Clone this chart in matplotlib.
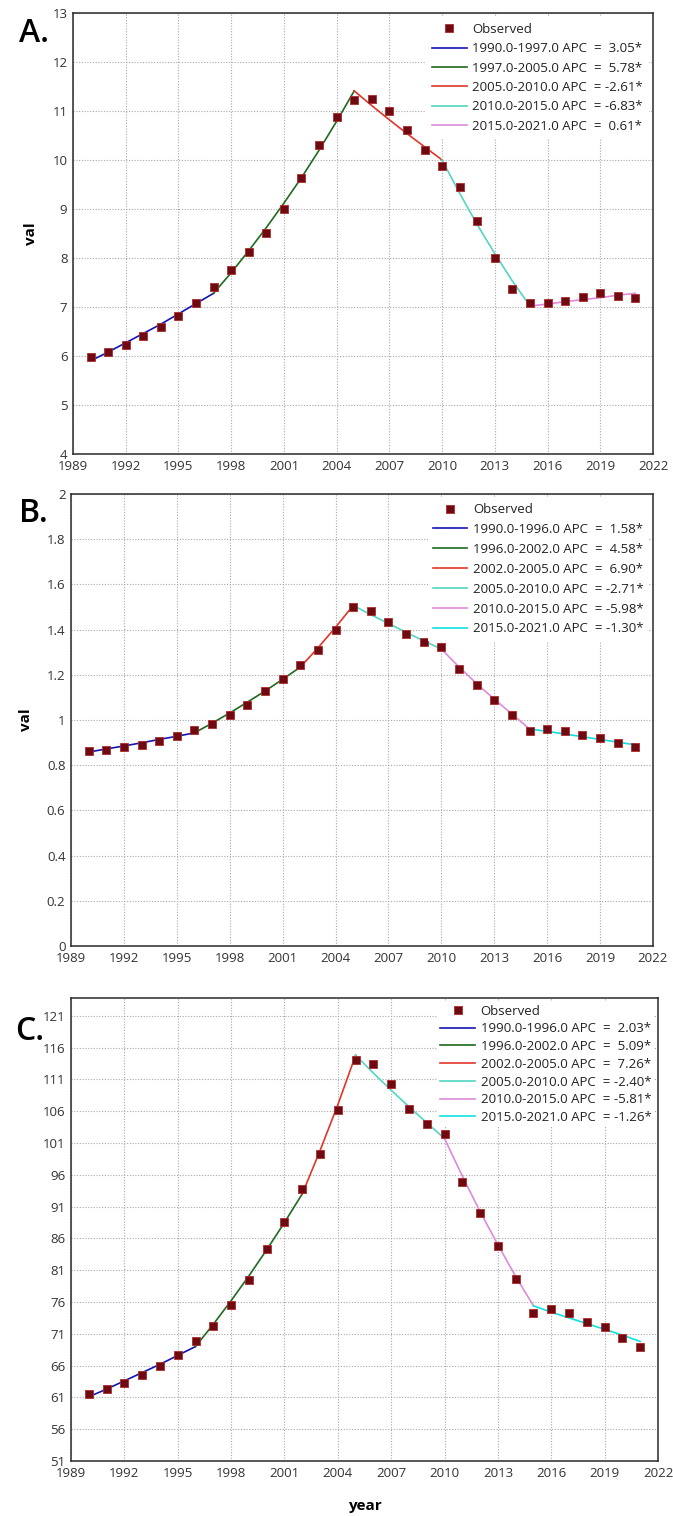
import matplotlib
matplotlib.use("Agg")
import matplotlib.pyplot as plt
from matplotlib.ticker import FuncFormatter

plt.rcParams['font.family'] = ['Open Sans', 'DejaVu Sans']

years = list(range(1990, 2022))

# Panel A
obs_a = [5.98, 6.09, 6.23, 6.40, 6.59, 6.81, 7.09, 7.40, 7.76, 8.13, 8.52, 9.00,
         9.63, 10.30, 10.87, 11.22, 11.24, 11.00, 10.62, 10.20, 9.87, 9.45, 8.75,
         7.99, 7.36, 7.09, 7.09, 7.13, 7.21, 7.28, 7.22, 7.19]
fit_a = [5.90, 6.08, 6.27, 6.46, 6.65, 6.86, 7.07, 7.28, 7.70, 8.15, 8.62, 9.12,
         9.64, 10.20, 10.79, 11.41, 11.11, 10.82, 10.54, 10.27, 10.00, 9.32, 8.68,
         8.09, 7.53, 7.02, 7.06, 7.11, 7.15, 7.19, 7.24, 7.28]
joins_a = [1990, 1997, 2005, 2010, 2015, 2021]
apc_a = [3.05, 5.78, -2.61, -6.83, 0.61]
colors_a = ['#1414b4', '#1f6a1f', '#e0362a', '#52d6c4', '#dd8ad8']

# Panel B
obs_b = [0.861, 0.869, 0.880, 0.891, 0.907, 0.929, 0.957, 0.982, 1.022, 1.066,
         1.128, 1.180, 1.245, 1.311, 1.398, 1.499, 1.481, 1.434, 1.379, 1.345,
         1.322, 1.226, 1.156, 1.090, 1.021, 0.951, 0.959, 0.950, 0.932, 0.922,
         0.900, 0.882]
fit_b = [0.858, 0.872, 0.885, 0.899, 0.914, 0.928, 0.943, 0.986, 1.031, 1.079,
         1.128, 1.180, 1.234, 1.319, 1.410, 1.507, 1.466, 1.427, 1.388, 1.350,
         1.314, 1.235, 1.161, 1.092, 1.027, 0.960, 0.950, 0.938, 0.926, 0.914,
         0.902, 0.890]
joins_b = [1990, 1996, 2002, 2005, 2010, 2015, 2021]
apc_b = [1.58, 4.58, 6.90, -2.71, -5.98, -1.30]
colors_b = ['#1414b4', '#1f6a1f', '#e0362a', '#52d6c4', '#dd8ad8', '#10e0e0']

# Panel C
obs_c = [61.5, 62.3, 63.3, 64.5, 65.9, 67.7, 69.9, 72.3, 75.6, 79.5, 84.4, 88.6,
         93.8, 99.3, 106.2, 114.1, 113.4, 110.2, 106.3, 104.0, 102.4, 94.9, 90.0,
         84.8, 79.6, 74.2, 74.9, 74.2, 72.8, 72.0, 70.3, 68.9]
fit_c = [61.1, 62.3, 63.6, 64.9, 66.2, 67.6, 69.0, 72.5, 76.2, 80.1, 84.2, 88.5,
         93.0, 99.8, 107.0, 114.8, 112.0, 109.3, 106.7, 104.2, 101.7, 95.8, 90.2,
         85.0, 80.0, 75.4, 74.4, 73.5, 72.6, 71.7, 70.8, 69.8]
joins_c = [1990, 1996, 2002, 2005, 2010, 2015, 2021]
apc_c = [2.03, 5.09, 7.26, -2.40, -5.81, -1.26]
colors_c = ['#1414b4', '#1f6a1f', '#e0362a', '#52d6c4', '#dd8ad8', '#10e0e0']

xticks = list(range(1989, 2023, 3))

W, H = 673, 1516
panels = [
    dict(obs=obs_a, fit=fit_a, joins=joins_a, apc=apc_a, colors=colors_a,
         box=(73, 13, 653, 454), ylim=(4, 13), yticks=list(range(4, 14)),
         letter='A.', letter_xy=(19, 33), ylabel=True, xlabel=False,
         lspace=0.48, bpad=0.45),
    dict(obs=obs_b, fit=fit_b, joins=joins_b, apc=apc_b, colors=colors_b,
         box=(71, 494, 653, 946), ylim=(0, 2), yticks=[i / 5 for i in range(11)],
         letter='B.', letter_xy=(19, 513), ylabel=True, xlabel=False,
         lspace=0.52, bpad=0.4),
    dict(obs=obs_c, fit=fit_c, joins=joins_c, apc=apc_c, colors=colors_c,
         box=(71, 998, 658, 1461), ylim=(51, 123.8), yticks=list(range(51, 122, 5)),
         letter='C.', letter_xy=(15, 1031), ylabel=False, xlabel=True,
         lspace=0.36, bpad=0.2),
]

fig = plt.figure(figsize=(W / 100, H / 100), dpi=100)
fig.patch.set_facecolor('white')

for p in panels:
    l, t, r, b = p['box']
    ax = fig.add_axes([l / W, 1 - b / H, (r - l) / W, (b - t) / H])
    ax.set_xlim(1989, 2022)
    ax.set_ylim(*p['ylim'])
    ax.set_xticks(xticks)
    ax.set_yticks(p['yticks'])
    ax.yaxis.set_major_formatter(FuncFormatter(lambda v, pos: f"{v:g}"))
    ax.tick_params(length=0, pad=4, labelsize=9.5, colors='#333333')
    ax.grid(True, color='#a8a8a8', linestyle=(0, (1, 1.5)), linewidth=0.8)
    ax.set_axisbelow(True)
    for s in ax.spines.values():
        s.set_color('#2a2a2a')
        s.set_linewidth(1.1)

    handles = []
    labels = []
    h_obs, = ax.plot(years, p['obs'], linestyle='none', marker='s', markersize=5.4,
                     markerfacecolor='#6e0a12', markeredgecolor='#b02a2a',
                     markeredgewidth=0.6, zorder=4)
    handles.append(h_obs)
    labels.append('Observed')
    for i in range(len(p['apc'])):
        x0, x1 = p['joins'][i], p['joins'][i + 1]
        i0, i1 = years.index(x0), years.index(x1)
        h, = ax.plot(years[i0:i1 + 1], p['fit'][i0:i1 + 1], color=p['colors'][i],
                     linewidth=1.2, zorder=3)
        handles.append(h)
        a = p['apc'][i]
        val = f" {a:.2f}*" if a >= 0 else f"{a:.2f}*"
        labels.append(f"{float(x0):.1f}-{float(x1):.1f} APC  = {val}")

    leg = ax.legend(handles, labels, loc='upper right', bbox_to_anchor=(1.0, 1.0),
                    fontsize=9.5, frameon=True, fancybox=False, framealpha=1,
                    facecolor='white', edgecolor='none', handlelength=2.6,
                    handletextpad=0.45, labelspacing=p['lspace'], borderpad=p['bpad'],
                    borderaxespad=0.3)
    for txt in leg.get_texts():
        txt.set_color('#222222')
    leg.set_zorder(5)

    if p['ylabel']:
        ax.set_ylabel('val', fontsize=11, fontweight='bold', labelpad=10)
    if p['xlabel']:
        ax.set_xlabel('year', fontsize=11, fontweight='bold', labelpad=14)

    lx, ly = p['letter_xy']
    fig.text(lx / W, 1 - ly / H, p['letter'], fontsize=23, fontweight='semibold',
             ha='left', va='center', color='black')

fig.savefig('out.png', dpi=100, facecolor='white')
